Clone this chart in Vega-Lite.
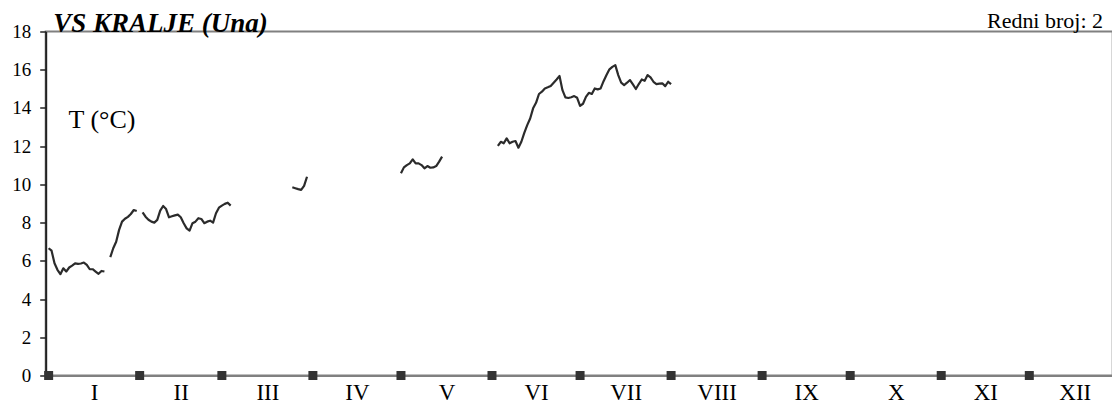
{
  "$schema": "https://vega.github.io/schema/vega-lite/v6.json",
  "width": 1067,
  "height": 344,
  "autosize": {"type": "none"},
  "padding": {"left": 45.7, "top": 31.5, "right": 0, "bottom": 33.5},
  "background": "white",
  "config": {
    "view": {"stroke": "#808080", "strokeWidth": 2},
    "font": "Liberation Serif",
    "axisX": {
      "ticks": false,
      "grid": false,
      "domainColor": "#808080",
      "domainWidth": 2,
      "labelFont": "Liberation Serif",
      "labelFontSize": 23,
      "labelColor": "black",
      "labelPadding": 6,
      "labelFlush": false,
      "labelOverlap": false
    },
    "axisY": {
      "grid": false,
      "domainColor": "#222222",
      "domainWidth": 2,
      "tickColor": "#222222",
      "tickWidth": 1.5,
      "tickSize": 6,
      "labelFont": "Liberation Serif",
      "labelFontSize": 19,
      "labelColor": "black",
      "labelPadding": 9,
      "labelFlush": false,
      "labelOverlap": false,
      "labelBound": false,
      "titleAngle": 0,
      "titleAlign": "left",
      "titleBaseline": "alphabetic",
      "titleX": 22.3,
      "titleY": 95.5,
      "titleFont": "Liberation Serif",
      "titleFontSize": 26,
      "titleFontWeight": "normal",
      "titleColor": "black"
    }
  },
  "datasets": {
    "temps": [
      {"d": 1, "t": 6.66, "seg": 1}, {"d": 2, "t": 6.53, "seg": 1}, {"d": 3, "t": 5.87, "seg": 1}, {"d": 4, "t": 5.53, "seg": 1}, {"d": 5, "t": 5.30, "seg": 1}, {"d": 6, "t": 5.61, "seg": 1}, {"d": 7, "t": 5.44, "seg": 1}, {"d": 8, "t": 5.65, "seg": 1}, {"d": 9, "t": 5.75, "seg": 1}, {"d": 10, "t": 5.87, "seg": 1}, {"d": 11, "t": 5.84, "seg": 1}, {"d": 12, "t": 5.86, "seg": 1}, {"d": 13, "t": 5.91, "seg": 1}, {"d": 14, "t": 5.79, "seg": 1}, {"d": 15, "t": 5.56, "seg": 1}, {"d": 16, "t": 5.56, "seg": 1}, {"d": 17, "t": 5.44, "seg": 1}, {"d": 18, "t": 5.32, "seg": 1}, {"d": 19, "t": 5.47, "seg": 1}, {"d": 20, "t": 5.44, "seg": 1},
      {"d": 22, "t": 6.19, "seg": 2}, {"d": 23, "t": 6.66, "seg": 2}, {"d": 24, "t": 7.0, "seg": 2}, {"d": 25, "t": 7.62, "seg": 2}, {"d": 26, "t": 8.05, "seg": 2}, {"d": 27, "t": 8.2, "seg": 2}, {"d": 28, "t": 8.3, "seg": 2}, {"d": 29, "t": 8.45, "seg": 2}, {"d": 30, "t": 8.66, "seg": 2}, {"d": 31, "t": 8.61, "seg": 2},
      {"d": 33, "t": 8.54, "seg": 3}, {"d": 34, "t": 8.31, "seg": 3}, {"d": 35, "t": 8.15, "seg": 3}, {"d": 36, "t": 8.05, "seg": 3}, {"d": 37, "t": 8.0, "seg": 3}, {"d": 38, "t": 8.14, "seg": 3}, {"d": 39, "t": 8.63, "seg": 3}, {"d": 40, "t": 8.87, "seg": 3}, {"d": 41, "t": 8.71, "seg": 3}, {"d": 42, "t": 8.28, "seg": 3}, {"d": 43, "t": 8.33, "seg": 3}, {"d": 44, "t": 8.38, "seg": 3}, {"d": 45, "t": 8.42, "seg": 3}, {"d": 46, "t": 8.28, "seg": 3}, {"d": 47, "t": 7.97, "seg": 3}, {"d": 48, "t": 7.70, "seg": 3}, {"d": 49, "t": 7.58, "seg": 3}, {"d": 50, "t": 7.97, "seg": 3}, {"d": 51, "t": 8.05, "seg": 3}, {"d": 52, "t": 8.23, "seg": 3}, {"d": 53, "t": 8.19, "seg": 3}, {"d": 54, "t": 7.97, "seg": 3}, {"d": 55, "t": 8.05, "seg": 3}, {"d": 56, "t": 8.10, "seg": 3}, {"d": 57, "t": 8.0, "seg": 3}, {"d": 58, "t": 8.49, "seg": 3}, {"d": 59, "t": 8.78, "seg": 3}, {"d": 60, "t": 8.89, "seg": 3}, {"d": 61, "t": 8.98, "seg": 3}, {"d": 62, "t": 9.04, "seg": 3}, {"d": 63, "t": 8.89, "seg": 3},
      {"d": 84, "t": 9.85, "seg": 4}, {"d": 85, "t": 9.80, "seg": 4}, {"d": 86, "t": 9.75, "seg": 4}, {"d": 87, "t": 9.71, "seg": 4}, {"d": 88, "t": 9.92, "seg": 4}, {"d": 89, "t": 10.40, "seg": 4},
      {"d": 121, "t": 10.58, "seg": 5}, {"d": 122, "t": 10.89, "seg": 5}, {"d": 123, "t": 11.01, "seg": 5}, {"d": 124, "t": 11.10, "seg": 5}, {"d": 125, "t": 11.31, "seg": 5}, {"d": 126, "t": 11.10, "seg": 5}, {"d": 127, "t": 11.10, "seg": 5}, {"d": 128, "t": 11.01, "seg": 5}, {"d": 129, "t": 10.84, "seg": 5}, {"d": 130, "t": 10.96, "seg": 5}, {"d": 131, "t": 10.87, "seg": 5}, {"d": 132, "t": 10.89, "seg": 5}, {"d": 133, "t": 10.96, "seg": 5}, {"d": 134, "t": 11.19, "seg": 5}, {"d": 135, "t": 11.45, "seg": 5},
      {"d": 154, "t": 12.01, "seg": 6}, {"d": 155, "t": 12.23, "seg": 6}, {"d": 156, "t": 12.15, "seg": 6}, {"d": 157, "t": 12.41, "seg": 6}, {"d": 158, "t": 12.15, "seg": 6}, {"d": 159, "t": 12.23, "seg": 6}, {"d": 160, "t": 12.27, "seg": 6}, {"d": 161, "t": 11.92, "seg": 6}, {"d": 162, "t": 12.23, "seg": 6}, {"d": 163, "t": 12.70, "seg": 6}, {"d": 164, "t": 13.10, "seg": 6}, {"d": 165, "t": 13.45, "seg": 6}, {"d": 166, "t": 13.98, "seg": 6}, {"d": 167, "t": 14.27, "seg": 6}, {"d": 168, "t": 14.73, "seg": 6}, {"d": 169, "t": 14.85, "seg": 6}, {"d": 170, "t": 15.02, "seg": 6}, {"d": 171, "t": 15.08, "seg": 6}, {"d": 172, "t": 15.15, "seg": 6}, {"d": 173, "t": 15.32, "seg": 6}, {"d": 174, "t": 15.49, "seg": 6}, {"d": 175, "t": 15.67, "seg": 6}, {"d": 176, "t": 14.93, "seg": 6}, {"d": 177, "t": 14.55, "seg": 6}, {"d": 178, "t": 14.52, "seg": 6}, {"d": 179, "t": 14.56, "seg": 6}, {"d": 180, "t": 14.62, "seg": 6}, {"d": 181, "t": 14.53, "seg": 6}, {"d": 182, "t": 14.11, "seg": 6}, {"d": 183, "t": 14.22, "seg": 6}, {"d": 184, "t": 14.58, "seg": 6}, {"d": 185, "t": 14.79, "seg": 6}, {"d": 186, "t": 14.73, "seg": 6}, {"d": 187, "t": 15.02, "seg": 6}, {"d": 188, "t": 14.97, "seg": 6}, {"d": 189, "t": 15.02, "seg": 6}, {"d": 190, "t": 15.40, "seg": 6}, {"d": 191, "t": 15.72, "seg": 6}, {"d": 192, "t": 16.02, "seg": 6}, {"d": 193, "t": 16.15, "seg": 6}, {"d": 194, "t": 16.24, "seg": 6}, {"d": 195, "t": 15.72, "seg": 6}, {"d": 196, "t": 15.32, "seg": 6}, {"d": 197, "t": 15.20, "seg": 6}, {"d": 198, "t": 15.32, "seg": 6}, {"d": 199, "t": 15.46, "seg": 6}, {"d": 200, "t": 15.23, "seg": 6}, {"d": 201, "t": 14.99, "seg": 6}, {"d": 202, "t": 15.25, "seg": 6}, {"d": 203, "t": 15.49, "seg": 6}, {"d": 204, "t": 15.42, "seg": 6}, {"d": 205, "t": 15.72, "seg": 6}, {"d": 206, "t": 15.60, "seg": 6}, {"d": 207, "t": 15.37, "seg": 6}, {"d": 208, "t": 15.25, "seg": 6}, {"d": 209, "t": 15.27, "seg": 6}, {"d": 210, "t": 15.29, "seg": 6}, {"d": 211, "t": 15.14, "seg": 6}, {"d": 212, "t": 15.37, "seg": 6}, {"d": 213, "t": 15.25, "seg": 6}
    ],
    "months": [
      {"d": 1, "t": 0}, {"d": 32, "t": 0}, {"d": 60, "t": 0}, {"d": 91, "t": 0}, {"d": 121, "t": 0}, {"d": 152, "t": 0},
      {"d": 182, "t": 0}, {"d": 213, "t": 0}, {"d": 244, "t": 0}, {"d": 274, "t": 0}, {"d": 305, "t": 0}, {"d": 335, "t": 0}
    ]
  },
  "layer": [
    {
      "data": {"name": "temps"},
      "mark": {"type": "line", "stroke": "#2b2b2b", "strokeWidth": 2.2, "strokeJoin": "round"},
      "encoding": {
        "x": {
          "field": "d", "type": "quantitative",
          "scale": {"domain": [0, 363.4], "nice": false, "zero": false},
          "axis": {
            "values": [16.5, 46, 75.5, 106, 136.5, 167, 197.5, 228.5, 259, 289.5, 320, 350.5],
            "labelExpr": "datum.value < 30 ? 'I' : datum.value < 60 ? 'II' : datum.value < 90 ? 'III' : datum.value < 120 ? 'IV' : datum.value < 150 ? 'V' : datum.value < 180 ? 'VI' : datum.value < 210 ? 'VII' : datum.value < 240 ? 'VIII' : datum.value < 270 ? 'IX' : datum.value < 300 ? 'X' : datum.value < 330 ? 'XI' : 'XII'",
            "title": null
          }
        },
        "y": {
          "field": "t", "type": "quantitative",
          "scale": {"domain": [0, 18], "nice": false, "zero": true},
          "axis": {"values": [0, 2, 4, 6, 8, 10, 12, 14, 16, 18], "title": "T (°C)"}
        },
        "detail": {"field": "seg", "type": "nominal"}
      }
    },
    {
      "data": {"name": "months"},
      "mark": {"type": "point", "shape": "square", "filled": true, "size": 81, "color": "#333333", "opacity": 1},
      "encoding": {
        "x": {
          "field": "d", "type": "quantitative",
          "axis": {
            "values": [16.5, 46, 75.5, 106, 136.5, 167, 197.5, 228.5, 259, 289.5, 320, 350.5],
            "labelExpr": "datum.value < 30 ? 'I' : datum.value < 60 ? 'II' : datum.value < 90 ? 'III' : datum.value < 120 ? 'IV' : datum.value < 150 ? 'V' : datum.value < 180 ? 'VI' : datum.value < 210 ? 'VII' : datum.value < 240 ? 'VIII' : datum.value < 270 ? 'IX' : datum.value < 300 ? 'X' : datum.value < 330 ? 'XI' : 'XII'",
            "title": null
          }
        },
        "y": {
          "field": "t", "type": "quantitative",
          "axis": {"values": [0, 2, 4, 6, 8, 10, 12, 14, 16, 18], "title": "T (°C)"}
        }
      }
    },
    {
      "data": {"values": [{"label": "Redni broj: 2", "d": 360.1, "t": 18}]},
      "mark": {"type": "text", "align": "right", "baseline": "alphabetic", "dy": -3.5, "font": "Liberation Serif", "fontSize": 22, "color": "black"},
      "encoding": {
        "x": {
          "field": "d", "type": "quantitative",
          "axis": {
            "values": [16.5, 46, 75.5, 106, 136.5, 167, 197.5, 228.5, 259, 289.5, 320, 350.5],
            "labelExpr": "datum.value < 30 ? 'I' : datum.value < 60 ? 'II' : datum.value < 90 ? 'III' : datum.value < 120 ? 'IV' : datum.value < 150 ? 'V' : datum.value < 180 ? 'VI' : datum.value < 210 ? 'VII' : datum.value < 240 ? 'VIII' : datum.value < 270 ? 'IX' : datum.value < 300 ? 'X' : datum.value < 330 ? 'XI' : 'XII'",
            "title": null
          }
        },
        "y": {
          "field": "t", "type": "quantitative",
          "axis": {"values": [0, 2, 4, 6, 8, 10, 12, 14, 16, 18], "title": "T (°C)"}
        },
        "text": {"field": "label"}
      }
    },
    {
      "data": {"values": [{"label": "VS KRALJE (Una)", "d": 2.6, "t": 18}]},
      "mark": {"type": "text", "align": "left", "baseline": "alphabetic", "dy": 0, "font": "Liberation Serif", "fontSize": 27, "fontStyle": "italic", "fontWeight": "bold", "color": "black"},
      "encoding": {
        "x": {
          "field": "d", "type": "quantitative",
          "axis": {
            "values": [16.5, 46, 75.5, 106, 136.5, 167, 197.5, 228.5, 259, 289.5, 320, 350.5],
            "labelExpr": "datum.value < 30 ? 'I' : datum.value < 60 ? 'II' : datum.value < 90 ? 'III' : datum.value < 120 ? 'IV' : datum.value < 150 ? 'V' : datum.value < 180 ? 'VI' : datum.value < 210 ? 'VII' : datum.value < 240 ? 'VIII' : datum.value < 270 ? 'IX' : datum.value < 300 ? 'X' : datum.value < 330 ? 'XI' : 'XII'",
            "title": null
          }
        },
        "y": {
          "field": "t", "type": "quantitative",
          "axis": {"values": [0, 2, 4, 6, 8, 10, 12, 14, 16, 18], "title": "T (°C)"}
        },
        "text": {"field": "label"}
      }
    }
  ]
}
